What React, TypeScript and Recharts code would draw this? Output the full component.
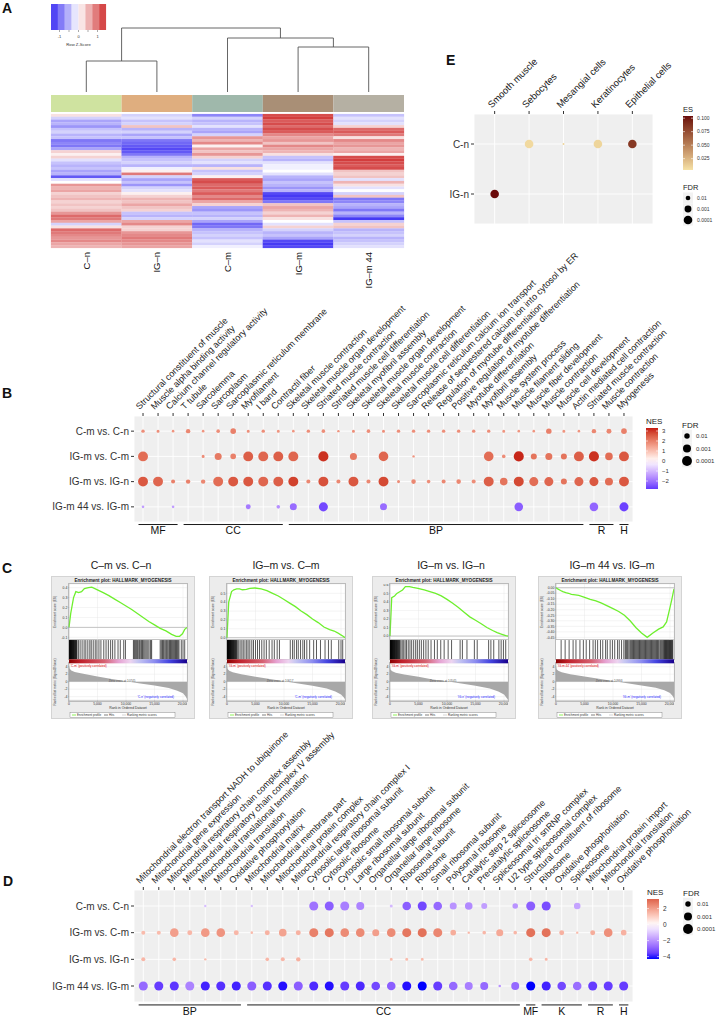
import React from "react";
import {
  ScatterChart, Scatter, LineChart, Line, AreaChart, Area,
  XAxis, YAxis, ZAxis, CartesianGrid, Cell, ReferenceArea, ReferenceLine,
} from "recharts";

const FONT = "'Liberation Sans', Arial, Helvetica, sans-serif";

// ---------- A: heatmap (row z-scores, 48 row bands per sample) ----------
const HEAT_SAMPLES = ["C–n", "IG–n", "C–m", "IG–m", "IG–m 44"];
const HEAT_SAMPLE_COLORS = ["#cfe3a0", "#dfae7f", "#9fb8ab", "#a98f76", "#b5b0a3"];
const HEAT_CN = [0.2, -0.3, -0.6, -0.5, -0.7, -0.4, -0.3, -0.5, -0.4, -0.9, -0.8, -0.9, -0.6, 0.3, 0.1, 0.3, -0.2, -0.4, -0.5, -0.4, -0.6, -0.5, -1.1, -0.2, 0.0, 0.7, 0.5, 0.6, 0.3, 0.4, 0.5, 0.3, 0.4, 0.3, 0.4, 0.7, 1.0, 0.9, 0.6, -0.3, 0.2, 1.0, 0.9, 0.8, 0.7, 0.8, 0.6, 0.5];
const HEAT_IGN = [-0.3, -0.2, -0.4, -0.3, 0.4, -0.5, -0.3, -0.6, -0.4, -0.9, -1.0, -1.1, -1.2, -1.1, -0.9, -0.5, -0.4, -0.3, -0.5, -0.1, 0.1, 0.9, -0.3, -0.6, -0.4, -0.7, -0.3, -0.2, 0.1, 0.3, 0.5, 0.4, 0.6, 0.4, 0.3, -0.4, -0.5, -0.3, 0.6, 0.8, 0.3, 0.3, 0.7, 0.8, 0.9, 0.8, 0.7, 0.6];
const HEAT_CM = [-0.8, -0.3, -0.5, -0.4, -0.2, -0.5, -0.6, -0.3, 0.7, 0.5, 0.8, 0.1, 0.6, 0.4, 0.7, 0.3, -0.3, -0.2, -0.5, 0.2, -0.4, -0.3, 0.1, 1.1, 1.2, 1.0, 1.1, 0.9, 1.1, 0.8, 1.0, 0.6, 0.3, -0.6, -0.7, -0.4, -0.5, -0.3, -0.6, -1.0, -0.9, -0.5, -0.4, -0.3, -0.4, -0.2, -0.3, -0.1];
const HEAT_IGM = [1.2, 1.3, 1.1, 1.2, 1.0, 1.2, 1.1, 0.8, 0.6, 0.7, 0.4, 0.8, 0.6, 0.5, 0.2, -0.4, -0.5, -0.2, -0.1, -0.1, 0.0, -0.2, -0.5, -0.6, -0.4, -0.5, -0.7, -0.5, -1.2, -1.3, -1.2, -0.9, 0.4, 0.6, 0.5, 0.3, 0.5, 0.2, 0.0, -0.2, 0.3, -0.3, -0.5, -0.4, -0.6, -1.2, -1.3, -1.2];
const HEAT_IGM44 = [-0.4, -0.2, -0.3, -0.2, 0.3, 1.0, 1.1, 0.9, 0.2, 0.8, 0.6, 0.7, 0.5, 0.6, 0.1, 1.2, 1.3, 1.2, 1.1, 1.2, 0.4, 0.3, 0.4, -0.2, 0.5, 0.2, -0.2, 0.0, -0.3, 0.4, -0.9, -0.8, -0.5, -0.6, -0.9, -0.5, -0.8, -1.3, -0.4, 0.3, 0.4, -0.5, -0.4, -0.3, -0.5, -0.4, -0.3, -0.2];
const HEAT_COLUMNS = [HEAT_CN, HEAT_IGN, HEAT_CM, HEAT_IGM, HEAT_IGM44];

// dendrogram links: child x positions / heights and merge height
const DENDRO_LINKS = [
  { xa: 0, ha: 0, xb: 1, hb: 0, h: 31 },
  { xa: 3, ha: 0, xb: 4, hb: 0, h: 45 },
  { xa: 2, ha: 0, xb: 3.5, hb: 45, h: 54 },
  { xa: 0.5, ha: 31, xb: 2.75, hb: 54, h: 64 },
];

// ---------- E: cell type enrichment ----------
const E_CELLS = ["Smooth muscle", "Sebocytes", "Mesangial cells", "Keratinocytes", "Epithelial cells"];
const E_GROUPS = ["C-n", "IG-n"];
const E_ES_CN = [null, 0.008, 0.01, 0.01, 0.085];
const E_FDR_CN = [null, 0.0001, 0.05, 0.0001, 0.0001];
const E_ES_IGN = [0.104, null, null, null, null];
const E_FDR_IGN = [0.0001, null, null, null, null];

// ---------- B / D: GSEA bubble plots ----------
const COMPARISONS = ["C-m vs. C-n", "IG-m vs. C-m", "IG-m vs. IG-n", "IG-m 44 vs. IG-m"];

const B_TERMS = [
  "Structural constituent of muscle", "Muscle alpha binding activity", "Calcium channel regulatory activity",
  "T tubule", "Sarcolemma", "Sarcoplasm", "Sarcoplasmic reticulum membrane", "Myofilament", "I band",
  "Contractil fiber", "Skeletal muscle contraction", "Skeletal muscle organ development",
  "Striated muscle contraction", "Striated muscle cell differentiation", "Skeletal myofibril assembly",
  "Skeletal muscle organ development", "Skeletal muscle contraction", "Skeletal muscle cell differentiation",
  "Sarcoplasmic reticulum calcium ion transport", "Release of sequestered calcium ion into cytosol by ER",
  "Regulation of myotube differentiation", "Positive regulation of myotube differentiation",
  "Myotube differentiation", "Myofibril assembly", "Muscle system process", "Muscle filament sliding",
  "Muscle fiber development", "Muscle contraction", "Muscle cell development",
  "Actin mediated cell contraction", "Striated muscle contraction", "Muscle contraction", "Myogenesis",
];
const B_NES_CM_CN = [1.8, 1.8, 1.7, 1.9, 1.7, 1.8, 2.0, 1.8, 1.8, 1.7, 1.7, 1.8, 1.8, 1.7, 1.8, 1.8, 1.8, 1.8, 1.8, 1.8, 1.8, 1.8, 1.8, 1.8, 1.7, 1.7, 1.7, 2.0, 1.7, 1.7, 1.9, 1.9, 2.0];
const B_FDR_CM_CN = [0.034, 0.04, 0.047, 0.02, 0.047, 0.031, 0.009, 0.04, 0.034, 0.04, 0.047, 0.034, 0.031, 0.05, 0.04, 0.031, 0.04, 0.034, 0.034, 0.034, 0.034, 0.034, 0.034, 0.034, 0.04, 0.047, 0.047, 0.01, 0.04, 0.047, 0.02, 0.014, 0.009];
const B_NES_IGM_CM = [2.3, null, null, null, 1.8, 2.1, 2.0, 2.5, 2.4, 2.5, 2.4, null, 3.1, null, 2.1, null, 2.4, null, 1.7, null, null, null, null, 2.3, 1.8, 3.2, 2.2, 2.2, 2.2, 2.5, 3.1, 2.3, 2.6];
const B_FDR_IGM_CM = [0.0001, null, null, null, 0.04, 0.0027, 0.009, 0.0001, 0.0001, 0.0001, 0.0001, null, 0.00008, null, 0.0027, null, 0.00015, null, 0.05, null, null, null, null, 0.00015, 0.031, 0.00008, 0.0065, 0.0027, 0.0065, 0.0001, 0.00008, 0.0015, 0.0001];
const B_NES_IGM_IGN = [2.6, 2.4, 2.0, 2.0, 1.9, 2.3, 2.6, 2.6, 2.4, 2.5, 2.9, 1.9, 2.7, 1.9, 2.6, 1.9, 2.8, 1.8, 1.9, 1.8, 1.9, 1.9, 1.8, 2.5, 2.2, 2.8, 2.3, 2.4, 2.2, 2.4, 2.6, 2.3, 2.6];
const B_FDR_IGM_IGN = [0.0001, 0.0001, 0.025, 0.02, 0.02, 0.0001, 0.0001, 0.0001, 0.0001, 0.0001, 0.0001, 0.025, 0.0001, 0.025, 0.0001, 0.025, 0.0001, 0.04, 0.018, 0.031, 0.025, 0.018, 0.025, 0.0001, 0.0015, 0.0001, 0.0003, 0.0003, 0.0065, 0.0003, 0.0003, 0.001, 0.0001];
const B_NES_IGM44_IGM = [-1.4, null, -1.4, null, null, null, null, -1.9, null, -1.6, -2.1, null, -2.6, null, null, null, -2.1, null, null, null, null, null, null, null, null, -2.3, null, null, null, null, -2.2, null, -2.7];
const B_FDR_IGM44_IGM = [0.047, null, 0.047, null, null, null, null, 0.014, null, 0.031, 0.0027, null, 0.0003, null, null, null, 0.0027, null, null, null, null, null, null, null, null, 0.0005, null, null, null, null, 0.0005, null, 0.0003];
const B_GROUPS = [
  { label: "MF", from: 1, to: 3 }, { label: "CC", from: 4, to: 10 }, { label: "BP", from: 11, to: 30 },
  { label: "R", from: 31, to: 32 }, { label: "H", from: 33, to: 33 },
];

const D_TERMS = [
  "Mitochondrial electron transport NADH to ubiquinone", "Mitochondrial gene expression",
  "Mitochondrial respiratory chain complex assembly", "Mitochondrial respiratory chain complex IV assembly",
  "Mitochondrial translational termination", "Mitochondrial translation", "Oxidative phosphorylation",
  "Mitochondrial matrix", "Mitochondrial membrane part", "Mitochondrial protein complex",
  "Mitochondrial respiratory chain complex I", "Cytosolic large ribosomal subunit", "Cytosolic ribosome",
  "Cytosolic small ribosomal subunit", "Large ribosomal subunit", "Organellar large ribosomal subunit",
  "Organellar large ribosome", "Ribosomal subunit", "Ribosome", "Small ribosomal subunit",
  "Polysomal ribosome", "Catalytic step 2 spliceosome", "Precatalytic spliceosome",
  "Spliceosomal tri snRNP complex", "U2 type spliceosomal complex", "Structural constituent of ribosome",
  "Ribosome", "Oxidative phosphorilation", "Spliceosome", "Mitochondrial protein import",
  "Mitochondrial translation", "Oxidative phosphorilation",
];
const D_NES_CM_CN = [null, null, null, null, -1.2, null, null, -1.2, null, null, null, -2.6, -3.0, -2.4, -2.3, null, -1.3, -3.0, -3.4, -2.8, -2.0, -2.2, -1.8, null, -2.0, -3.0, -3.3, null, -1.7, null, null, null];
const D_FDR_CM_CN = [null, null, null, null, 0.05, null, null, 0.05, null, null, null, 0.0003, 0.0003, 0.0003, 0.001, null, 0.04, 0.0005, 0.0003, 0.0005, 0.0027, 0.0015, 0.0065, null, 0.009, 0.0003, 0.0003, null, 0.004, null, null, null];
const D_NES_IGM_CM = [1.4, 1.4, 2.0, 1.5, 2.1, 2.2, 1.5, 1.4, 1.6, 1.9, 1.6, 2.6, 2.8, 2.4, 2.4, 2.0, 2.4, 2.8, 2.9, 2.5, 1.7, 1.5, 1.5, 1.8, 1.5, 2.9, 2.9, 1.6, 1.4, 1.7, 2.3, 1.6];
const D_FDR_IGM_CM = [0.025, 0.025, 0.0005, 0.014, 0.0005, 0.0005, 0.014, 0.047, 0.014, 0.0015, 0.014, 0.0003, 0.0003, 0.0005, 0.0005, 0.0027, 0.0005, 0.0003, 0.0003, 0.0003, 0.009, 0.05, 0.031, 0.0027, 0.031, 0.0003, 0.0003, 0.014, 0.05, 0.014, 0.0005, 0.009];
const D_NES_IGM_IGN = [1.5, null, 1.5, null, 1.4, null, null, null, 1.5, 1.5, 1.6, null, null, null, null, null, 1.4, 1.4, 1.4, null, null, null, null, null, null, 1.5, 1.5, null, null, null, null, null];
const D_FDR_IGM_IGN = [0.025, null, 0.031, null, 0.05, null, null, null, 0.031, 0.025, 0.02, null, null, null, null, null, 0.04, 0.04, 0.04, null, null, null, null, null, null, 0.031, 0.04, null, null, null, null, null];
const D_NES_IGM44_IGM = [-2.8, -3.6, -3.7, -2.3, -4.0, -3.8, -4.0, -3.0, -3.8, -4.2, -3.0, -3.9, -4.2, -3.6, -3.9, -3.4, -3.0, -4.2, -4.3, -3.6, -2.8, -2.4, -2.8, -2.0, -2.8, -4.3, -4.0, -3.4, -2.7, -3.6, -3.6, -3.6];
const D_FDR_IGM44_IGM = [0.0003, 0.0003, 0.0003, 0.0003, 0.0003, 0.0003, 0.0003, 0.0003, 0.0003, 0.0003, 0.0003, 0.0003, 0.0003, 0.0003, 0.0003, 0.0005, 0.0005, 0.0003, 0.0003, 0.0003, 0.0005, 0.001, 0.001, 0.047, 0.001, 0.0003, 0.0003, 0.0005, 0.0005, 0.0003, 0.0003, 0.0003];
const D_GROUPS = [
  { label: "BP", from: 1, to: 7 }, { label: "CC", from: 8, to: 25 }, { label: "MF", from: 26, to: 26 },
  { label: "K", from: 27, to: 29 }, { label: "R", from: 30, to: 31 }, { label: "H", from: 32, to: 32 },
];

// ---------- C: GSEA enrichment plots (HALLMARK_MYOGENESIS) ----------
const GSEA_N = 20700;
const ES_RANKS = [0, 300, 800, 1200, 1700, 2200, 2700, 3400, 4000, 4900, 6000, 7000, 8000, 9000, 10000, 11000, 12000, 13000, 14000, 15000, 16000, 17000, 18000, 18800, 19400, 19900, 20300, 20700];
const C1_ES = [0, 0.14, 0.3, 0.36, 0.35, 0.36, 0.39, 0.4, 0.405, 0.38, 0.35, 0.32, 0.285, 0.25, 0.215, 0.18, 0.14, 0.1, 0.06, 0.025, -0.01, -0.035, -0.07, -0.09, -0.09, -0.065, -0.02, 0];
const C2_ES = [0, 0.4, 0.52, 0.54, 0.55, 0.55, 0.54, 0.545, 0.555, 0.56, 0.55, 0.53, 0.5, 0.47, 0.43, 0.39, 0.35, 0.3, 0.26, 0.21, 0.17, 0.12, 0.09, 0.075, 0.055, 0.035, 0.02, 0];
const C3_ES = [0, 0.45, 0.47, 0.5, 0.52, 0.54, 0.58, 0.58, 0.57, 0.56, 0.54, 0.52, 0.5, 0.47, 0.43, 0.385, 0.335, 0.28, 0.225, 0.185, 0.145, 0.1, 0.065, 0.04, 0.025, 0.015, 0.005, 0];
const C4_ES = [0, -0.01, -0.025, -0.035, -0.045, -0.05, -0.06, -0.065, -0.07, -0.085, -0.105, -0.12, -0.14, -0.165, -0.19, -0.215, -0.25, -0.3, -0.36, -0.41, -0.45, -0.41, -0.375, -0.355, -0.31, -0.2, -0.11, -0.01];
const C1_ES_TICKS = [-0.1, 0, 0.1, 0.2, 0.3, 0.4];
const C2_ES_TICKS = [0, 0.1, 0.2, 0.3, 0.4, 0.5];
const C3_ES_TICKS = [0, 0.1, 0.2, 0.3, 0.4, 0.5, 0.6];
const C4_ES_TICKS = [-0.45, -0.4, -0.35, -0.3, -0.25, -0.2, -0.15, -0.1, -0.05, 0];
const C1_HITS = [30, 90, 120, 170, 210, 260, 300, 350, 400, 450, 500, 560, 620, 680, 740, 800, 860, 930, 1000, 1080, 1150, 1230, 1320, 1400, 1650, 1950, 2300, 2650, 2950, 3300, 3650, 3900, 4250, 4600, 4900, 5250, 5600, 6100, 6500, 6900, 7300, 7650, 8050, 8600, 9000, 9600, 9900, 11300, 11450, 11600, 11750, 11900, 12050, 12250, 12400, 12600, 12750, 12900, 13100, 13300, 13500, 13700, 13900, 14200, 14350, 14500, 16000, 16200, 16400, 16550, 16700, 16900, 17100, 17300, 17500, 17650, 17800, 17950, 18100, 18250, 18400, 18550, 18700, 18850, 19000, 19150, 19300, 19700, 20000, 20300];
const C2_HITS = [20, 50, 80, 115, 150, 190, 230, 270, 310, 350, 400, 450, 500, 550, 610, 660, 720, 780, 850, 910, 980, 1050, 1120, 1190, 1270, 1350, 1430, 1520, 1600, 1700, 1800, 2050, 2300, 2600, 2850, 3150, 3450, 3700, 4000, 4350, 4650, 5000, 5350, 5700, 6100, 6500, 6900, 7400, 7900, 8300, 8800, 9200, 11100, 11500, 11800, 12200, 12500, 12900, 13300, 13600, 14000, 14500, 15200, 15700, 16400, 17200, 17800, 18300, 19600, 20000, 20300];
const C3_HITS = [20, 55, 90, 130, 170, 215, 260, 300, 350, 400, 450, 500, 560, 620, 680, 740, 800, 860, 930, 1000, 1070, 1140, 1220, 1300, 1380, 1460, 1550, 1640, 1730, 1920, 2150, 2400, 2650, 2900, 3200, 3500, 3800, 4150, 4500, 4800, 5150, 5500, 5900, 6300, 6700, 7200, 7800, 8300, 8900, 9500, 10200, 10800, 12300, 12700, 13500, 14800, 15300, 17300, 17700, 18200, 19100, 19500, 19900, 20300];
const C4_HITS = [900, 1600, 2300, 3000, 3500, 4200, 4800, 5300, 5900, 6500, 6900, 7300, 7800, 8200, 8700, 9000, 9500, 9900, 10300, 10800, 11100, 11500, 11900, 12150, 12300, 12450, 12600, 12800, 13000, 13150, 13300, 13450, 13600, 13750, 13900, 14050, 14200, 14350, 14500, 14650, 14800, 14950, 15100, 15250, 15400, 15550, 15700, 15850, 16000, 16150, 16300, 16450, 16600, 16750, 16900, 17050, 17200, 17350, 17500, 17650, 17800, 17950, 18100, 18300, 18450, 18600, 18750, 18900, 19000, 19100, 19200, 19300, 19400, 19500, 19600, 19700, 19800, 19900, 20000, 20100, 20200, 20300, 20400, 20500];
const METRIC_RANKS = [0, 100, 400, 1000, 2500, 5000, 7500, 10000, 12500, 15000, 17500, 19000, 20000, 20500, 20700];
const C1_METRIC = [4.4, 3.5, 3.0, 2.6, 2.1, 1.4, 0.7, 0.15, -0.45, -1.0, -1.7, -2.4, -3.1, -4.0, -4.6];
const C2_METRIC = [4.2, 3.4, 2.9, 2.5, 2.0, 1.3, 0.7, 0.1, -0.5, -1.1, -1.8, -2.6, -3.4, -4.2, -4.7];
const C3_METRIC = [4.0, 3.2, 2.8, 2.4, 1.9, 1.3, 0.6, 0.1, -0.5, -1.1, -1.8, -2.6, -3.4, -4.4, -4.8];
const C4_METRIC = [4.2, 3.3, 2.9, 2.5, 2.0, 1.4, 0.8, 0.2, -0.4, -1.0, -1.6, -2.3, -3.0, -3.9, -4.5];
const GSEA_TITLES = ["C–m vs. C–n", "IG–m vs. C–m", "IG–m vs. IG–n", "IG–m 44 vs. IG–m"];
const GSEA_POS = ["C-m", "IG-m", "IG-m", "IG-m 44"];
const GSEA_NEG = ["C-n", "C-m", "IG-n", "IG-m"];
const GSEA_ZERO = [10745, 10617, 10545, 10993];

// ---------- colour helpers ----------
const hexToRgb = (h: string) => { const n = parseInt(h.slice(1), 16); return [(n >> 16) & 255, (n >> 8) & 255, n & 255]; };
const toLin = (c: number) => { c /= 255; return c <= 0.04045 ? c / 12.92 : Math.pow((c + 0.055) / 1.055, 2.4); };
const fromLin = (c: number) => { const v = c <= 0.0031308 ? 12.92 * c : 1.055 * Math.pow(c, 1 / 2.4) - 0.055; return Math.round(Math.max(0, Math.min(1, v)) * 255); };
const rgbToLab = (rgb: number[]) => {
  const [r, g, b] = rgb.map(toLin);
  const f = (t: number) => (t > 0.008856 ? Math.cbrt(t) : 7.787 * t + 16 / 116);
  const fx = f((0.4124 * r + 0.3576 * g + 0.1805 * b) / 0.95047);
  const fy = f(0.2126 * r + 0.7152 * g + 0.0722 * b);
  const fz = f((0.0193 * r + 0.1192 * g + 0.9505 * b) / 1.08883);
  return [116 * fy - 16, 500 * (fx - fy), 200 * (fy - fz)];
};
const labToHex = ([L, a, b]: number[]) => {
  const fy = (L + 16) / 116, fx = fy + a / 500, fz = fy - b / 200;
  const inv = (t: number) => (t * t * t > 0.008856 ? t * t * t : (t - 16 / 116) / 7.787);
  const x = inv(fx) * 0.95047, y = inv(fy), z = inv(fz) * 1.08883;
  const rgb = [3.2406 * x - 1.5372 * y - 0.4986 * z, -0.9689 * x + 1.8758 * y + 0.0415 * z, 0.0557 * x - 0.204 * y + 1.057 * z];
  return "#" + rgb.map(fromLin).map((v) => v.toString(16).padStart(2, "0")).join("");
};
const mixLab = (c1: string, c2: string, t: number) => {
  const A = rgbToLab(hexToRgb(c1)), B = rgbToLab(hexToRgb(c2));
  return labToHex(A.map((v, i) => v + (B[i] - v) * t));
};
const mixRgb = (c1: string, c2: string, t: number) => {
  const A = hexToRgb(c1), B = hexToRgb(c2);
  return "#" + A.map((v, i) => Math.round(v + (B[i] - v) * t).toString(16).padStart(2, "0")).join("");
};
const clamp01 = (t: number) => Math.max(0, Math.min(1, t));

const NES_HIGH = "#C41A12";
const NES_LOW = "#0000FF";
const nesColor = (nes: number, m: number) =>
  nes >= 0 ? mixLab("#ffffff", NES_HIGH, clamp01(nes / m)) : mixLab("#ffffff", NES_LOW, clamp01(-nes / m));
const heatColor = (v: number) =>
  v >= 0 ? mixRgb("#ffffff", "#cc1f1f", clamp01(v / 1.5)) : mixRgb("#ffffff", "#2a1cf2", clamp01(-v / 1.5));
const ES_LOW = "#F6E2A6";
const ES_HIGH = "#6A0A0A";
const esColor = (es: number) => mixLab(ES_LOW, ES_HIGH, clamp01((es - 0.004) / 0.1));

const SIZE_DOMAIN = [1.3, 4.3];
const SIZE_RANGE = [4.5, 85];
const E_SIZE_DOMAIN = [1.3, 4];
const E_SIZE_RANGE = [3, 58];
const radiusFor = (fdr: number, dom: number[], rng: number[]) => {
  const l = -Math.log10(fdr);
  const area = rng[0] + ((l - dom[0]) / (dom[1] - dom[0])) * (rng[1] - rng[0]);
  return Math.sqrt(Math.max(area, 0.5) / Math.PI);
};
const seq = (n: number, start = 1) => Array.from({ length: n }, (_, i) => i + start);
const fmtMinus = (v: number) => (v < 0 ? "−" + Math.abs(v) : String(v));

const angledTick = (labels: string[], fontSize: number, dx: number, dy: number) => (props: any) => {
  const { x, y, payload } = props;
  const ox = x + dx, oy = y + dy;
  return (
    <text x={ox} y={oy} transform={`rotate(-45 ${ox} ${oy})`} fontSize={fontSize} fill="#1a1a1a" textAnchor="start">
      {labels[Math.round(payload.value) - 1]}
    </text>
  );
};

// ---------- panel A ----------
function HeatmapPanel() {
  const cells: any[] = [];
  HEAT_COLUMNS.forEach((col, c) => col.forEach((v, r) => cells.push({ x: c, y: r, v })));
  const heatTick = (props: any) => (
    <text transform={`translate(${props.x + 3.5},${props.y}) rotate(-90)`} textAnchor="end" fontSize={9.5} fill="#111">
      {HEAT_SAMPLES[props.payload.value]}
    </text>
  );
  return (
    <>
      <div style={{ position: "absolute", left: 0, top: 20 }}>
        <ScatterChart width={420} height={80} margin={{ top: 8, right: 16, bottom: 8, left: 51 }}>
          <XAxis dataKey="x" type="number" domain={[-0.5, 4.5]} hide />
          <YAxis dataKey="y" type="number" domain={[0, 64]} hide />
          {DENDRO_LINKS.map((k, i) => (
            <Scatter
              key={i}
              data={[{ x: k.xa, y: k.ha }, { x: k.xa, y: k.h }, { x: k.xb, y: k.h }, { x: k.xb, y: k.hb }]}
              line={{ stroke: "#555", strokeWidth: 0.9 }}
              shape={() => <g />}
              isAnimationActive={false}
            />
          ))}
        </ScatterChart>
      </div>
      <div style={{ position: "absolute", left: 0, top: 90 }}>
        <ScatterChart width={420} height={210} margin={{ top: 5, right: 16, bottom: 0, left: 51 }}>
          <XAxis dataKey="x" type="number" domain={[-0.5, 4.5]} ticks={[0, 1, 2, 3, 4]} interval={0}
            height={52} tickSize={0} tickMargin={4} axisLine={false} tickLine={false} tick={heatTick} />
          <YAxis dataKey="y" type="number" domain={[-7.31, 47.5]} reversed hide />
          {HEAT_SAMPLE_COLORS.map((c, i) => (
            <ReferenceArea key={i} x1={i - 0.5} x2={i + 0.5} y1={-7.31} y2={-1.22} fill={c} fillOpacity={1} stroke="none" />
          ))}
          <Scatter data={cells} isAnimationActive={false}
            shape={(p: any) => <rect x={p.cx - 35.4} y={p.cy - 1.48} width={70.8} height={2.96} fill={heatColor(p.payload.v)} />} />
        </ScatterChart>
      </div>
    </>
  );
}

// ---------- panel E ----------
function CellTypePanel() {
  const data: any[] = [];
  [E_ES_CN, E_ES_IGN].forEach((row, r) => row.forEach((es, c) => {
    const fdr = (r === 0 ? E_FDR_CN : E_FDR_IGN)[c];
    if (es != null && fdr != null) data.push({ x: c + 1, y: r + 1, es, l: -Math.log10(fdr) });
  }));
  return (
    <div style={{ position: "absolute", left: 420, top: 0 }}>
      <ScatterChart width={297} height={240} margin={{ top: 0, right: 64, bottom: 16, left: 0 }}>
        <CartesianGrid fill="#efefef" fillOpacity={1} stroke="#ffffff" strokeWidth={0.9} />
        <XAxis dataKey="x" type="number" orientation="top" domain={[0.4, 5.6]} ticks={seq(5)} interval={0}
          height={114} tickSize={3} tickLine={{ stroke: "#333" }} axisLine={false} tick={angledTick(E_CELLS, 9.5, -3, -0.5)} />
        <YAxis dataKey="y" type="number" reversed domain={[0.4, 2.6]} ticks={[1, 2]} interval={0} width={54}
          tickFormatter={(v: number) => E_GROUPS[v - 1]} tick={{ fontSize: 10, fill: "#333" }}
          tickSize={3} tickMargin={2} axisLine={false} tickLine={{ stroke: "#333" }} />
        <ZAxis dataKey="l" type="number" domain={E_SIZE_DOMAIN} range={E_SIZE_RANGE} />
        <Scatter data={data} isAnimationActive={false}>
          {data.map((d, i) => <Cell key={i} fill={esColor(d.es)} />)}
        </Scatter>
      </ScatterChart>
    </div>
  );
}

// ---------- panels B and D ----------
function BubblePanel({ top, height, axisHeight, bottom, terms, nesRows, fdrRows, nesMax, groups, bracketY }: any) {
  const data: any[] = [];
  nesRows.forEach((row: any[], r: number) => row.forEach((nes, c) => {
    const fdr = fdrRows[r][c];
    if (nes != null && fdr != null) data.push({ x: c + 1, y: r + 1, nes, l: -Math.log10(fdr) });
  }));
  const n = terms.length;
  return (
    <div style={{ position: "absolute", left: 0, top }}>
      <ScatterChart width={717} height={height} margin={{ top: 0, right: 84, bottom, left: 0 }}>
        <CartesianGrid fill="#efefef" fillOpacity={1} stroke="#ffffff" strokeWidth={0.9} />
        <XAxis dataKey="x" type="number" orientation="top" domain={[0.4, n + 0.6]} ticks={seq(n)} interval={0}
          height={axisHeight} tickSize={3} tickLine={{ stroke: "#333" }} axisLine={false}
          tick={angledTick(terms, 9, -3.5, -1)} />
        <YAxis dataKey="y" type="number" reversed domain={[0.4, 4.6]} ticks={[1, 2, 3, 4]} interval={0} width={134}
          tickFormatter={(v: number) => COMPARISONS[v - 1]} tick={{ fontSize: 10, fill: "#333" }}
          tickSize={3} tickMargin={2} axisLine={false} tickLine={{ stroke: "#333" }} />
        <ZAxis dataKey="l" type="number" domain={SIZE_DOMAIN} range={SIZE_RANGE} />
        {groups.map((g: any) => (
          <ReferenceLine key={g.label + g.from} ifOverflow="visible" stroke="#1a1a1a" strokeWidth={1}
            segment={[{ x: g.from - 0.3, y: bracketY }, { x: g.to + 0.3, y: bracketY }]}
            label={{ value: g.label, position: "bottom", offset: 2.5, fontSize: 10.5, fill: "#111" }} />
        ))}
        <Scatter data={data} isAnimationActive={false}>
          {data.map((d, i) => <Cell key={i} fill={nesColor(d.nes, nesMax)} />)}
        </Scatter>
      </ScatterChart>
    </div>
  );
}

// ---------- panel C ----------
function GseaPanel({ idx, left, es, esTicks, esDomain, digits, hits, metric }: any) {
  const esData = ES_RANKS.map((r, i) => ({ rank: r, es: es[i] }));
  const hitData = hits.map((r: number) => ({ rank: r, y: 0 }));
  const metricData = METRIC_RANKS.map((r, i) => ({ rank: r, value: metric[i] }));
  const white = (t: number, h: number) => (
    <div style={{ position: "absolute", left: 17, top: t, width: 118, height: h, background: "#fff", outline: "0.4px solid #bbb" }} />
  );
  const tiny = { fontSize: 3.4, fill: "#333" };
  return (
    <div style={{ position: "absolute", left, top: 577, width: 142, height: 141, background: "#ececec", outline: "0.5px solid #d4d4d4" }}>
      {white(7, 56)}
      {white(63, 19.3)}
      {white(86.3, 37.4)}
      <div style={{ position: "absolute", left: 5, top: 7 }}>
        <LineChart width={130} height={56} data={esData} margin={{ top: 0, right: 0, bottom: 0, left: 0 }}>
          <CartesianGrid stroke="#e2e2e2" strokeWidth={0.4} />
          <XAxis dataKey="rank" type="number" domain={[0, GSEA_N]} ticks={[0, 5000, 10000, 15000, 20000]} hide />
          <YAxis type="number" domain={esDomain} ticks={esTicks} interval={0} width={12} tick={tiny}
            tickFormatter={(v: number) => v.toFixed(digits)} tickSize={1.2} tickMargin={0.5}
            axisLine={{ stroke: "#999", strokeWidth: 0.4 }} tickLine={{ stroke: "#999", strokeWidth: 0.4 }} />
          <ReferenceLine y={0} stroke="#c4c4c4" strokeWidth={1} />
          <Line dataKey="es" type="linear" stroke="#6EEF2E" strokeWidth={1.3} dot={false} isAnimationActive={false} />
        </LineChart>
      </div>
      <div style={{ position: "absolute", left: 17, top: 63 }}>
        <ScatterChart width={118} height={19.3} margin={{ top: 0, right: 0, bottom: 0, left: 0 }}>
          <XAxis dataKey="rank" type="number" domain={[0, GSEA_N]} hide />
          <YAxis dataKey="y" type="number" domain={[-1, 1]} hide />
          <Scatter data={hitData} isAnimationActive={false}
            shape={(p: any) => <line x1={p.cx} x2={p.cx} y1={p.cy - 9.6} y2={p.cy + 9.6} stroke="#000" strokeWidth={0.65} />} />
        </ScatterChart>
      </div>
      <div style={{ position: "absolute", left: 5, top: 86.3 }}>
        <AreaChart width={130} height={46} data={metricData} margin={{ top: 0, right: 0, bottom: 0, left: 0 }}>
          <CartesianGrid stroke="#e2e2e2" strokeWidth={0.4} />
          <XAxis dataKey="rank" type="number" domain={[0, GSEA_N]} ticks={[0, 5000, 10000, 15000, 20000]} interval={0}
            height={8.6} tick={tiny} tickSize={1.2} tickMargin={0.5} tickFormatter={(v: number) => v.toLocaleString("en-US")}
            axisLine={{ stroke: "#999", strokeWidth: 0.4 }} tickLine={{ stroke: "#999", strokeWidth: 0.4 }} />
          <YAxis type="number" domain={[-5, 5]} ticks={[-4, -2, 0, 2, 4]} interval={0} width={12} tick={tiny}
            tickSize={1.2} tickMargin={0.5} axisLine={{ stroke: "#999", strokeWidth: 0.4 }} tickLine={{ stroke: "#999", strokeWidth: 0.4 }} />
          <Area dataKey="value" type="linear" baseValue={0} fill="#a8a8a8" fillOpacity={1} stroke="none" isAnimationActive={false} />
        </AreaChart>
      </div>
      <svg width={142} height={141} style={{ position: "absolute", left: 0, top: 0, overflow: "visible" }}>
        <defs>
          <linearGradient id={`rank${idx}`} x1="0" x2="1" y1="0" y2="0">
            <stop offset="0" stopColor="#8a0000" />
            <stop offset="0.1" stopColor="#c0202a" />
            <stop offset="0.3" stopColor="#d66070" />
            <stop offset="0.42" stopColor="#e6a2d2" />
            <stop offset="0.52" stopColor="#eed4f0" />
            <stop offset="0.58" stopColor="#c8c8f2" />
            <stop offset="0.72" stopColor="#8e8ef0" />
            <stop offset="0.85" stopColor="#4444e0" />
            <stop offset="1" stopColor="#18008c" />
          </linearGradient>
        </defs>
        <text x={71} y={5.4} fontSize={4.6} fontWeight="bold" textAnchor="middle" fill="#222">Enrichment plot: HALLMARK_MYOGENESIS</text>
        <text transform="translate(4.2,35) rotate(-90)" fontSize={3.2} textAnchor="middle" fill="#333">Enrichment score (ES)</text>
        <text transform="translate(4.2,105) rotate(-90)" fontSize={3.2} textAnchor="middle" fill="#333">Ranked list metric (Signal2Noise)</text>
        <rect x={17} y={82.3} width={118} height={4} fill={`url(#rank${idx})`} />
        <text x={18.5} y={90} fontSize={3} fill="#e00000">{`'${GSEA_POS[idx]}' (positively correlated)`}</text>
        <text x={70} y={104.5} fontSize={3} fill="#555" textAnchor="middle">{`Zero cross at ${GSEA_ZERO[idx]}`}</text>
        <text x={122} y={121} fontSize={3} fill="#2222ff" textAnchor="end">{`'${GSEA_NEG[idx]}' (negatively correlated)`}</text>
        <text x={76} y={132.4} fontSize={3.4} fill="#333" textAnchor="middle">Rank in Ordered Dataset</text>
        <rect x={18} y={135.6} width={105} height={4.8} fill="#fff" stroke="#666" strokeWidth={0.35} />
        <line x1={20} x2={24} y1={138} y2={138} stroke="#6EEF2E" strokeWidth={0.8} />
        <text x={25} y={139} fontSize={3} fill="#333">Enrichment profile</text>
        <line x1={52} x2={56} y1={138} y2={138} stroke="#000" strokeWidth={0.5} />
        <text x={57} y={139} fontSize={3} fill="#333">Hits</text>
        <line x1={70} x2={74} y1={138} y2={138} stroke="#aaa" strokeWidth={0.5} />
        <text x={75} y={139} fontSize={3} fill="#333">Ranking metric scores</text>
      </svg>
    </div>
  );
}

// ---------- legends & annotations ----------
function GradientBar({ id, x, y, w, h, top, bottom, color, ticks, fmt, fontSize }: any) {
  const stops = seq(11, 0).map((i) => ({ o: i / 10, c: color(top + ((bottom - top) * i) / 10) }));
  const yOf = (v: number) => y + ((top - v) / (top - bottom)) * h;
  return (
    <g>
      <defs>
        <linearGradient id={id} x1="0" x2="0" y1="0" y2="1">
          {stops.map((s) => <stop key={s.o} offset={s.o} stopColor={s.c} />)}
        </linearGradient>
      </defs>
      <rect x={x} y={y} width={w} height={h} fill={`url(#${id})`} />
      {ticks.map((t: number) => (
        <g key={t}>
          <line x1={x} x2={x + 2} y1={yOf(t)} y2={yOf(t)} stroke="#fff" strokeWidth={0.6} />
          <line x1={x + w - 2} x2={x + w} y1={yOf(t)} y2={yOf(t)} stroke="#fff" strokeWidth={0.6} />
          <text x={x + w + 4} y={yOf(t)} dy="0.35em" fontSize={fontSize} fill="#333">{fmt(t)}</text>
        </g>
      ))}
    </g>
  );
}

function SizeLegend({ x, y, gap, dom, rng, fontSize, titleSize }: any) {
  const fdrs = [0.01, 0.001, 0.0001];
  return (
    <g>
      <text x={x - 5} y={y - 8} fontSize={titleSize} fill="#222">FDR</text>
      {fdrs.map((f, i) => (
        <g key={f}>
          <rect x={x - 5} y={y + i * gap - gap / 2} width={10} height={gap} fill="#f2f2f2" />
          <circle cx={x} cy={y + i * gap} r={radiusFor(f, dom, rng)} fill="#000" />
          <text x={x + 9} y={y + i * gap} dy="0.35em" fontSize={fontSize} fill="#333">{String(f)}</text>
        </g>
      ))}
    </g>
  );
}

function Overlay() {
  const keyBins = seq(8, 0).map((i) => -1.225 + i * 0.35);
  const letter = { fontSize: 14, fontWeight: "bold" as const, fill: "#111" };
  const titleX = [121, 286, 451, 612];
  return (
    <svg width={717} height={1017} style={{ position: "absolute", left: 0, top: 0, pointerEvents: "none" }}>
      <text x={2} y={13} {...letter}>A</text>
      <text x={446} y={65} {...letter}>E</text>
      <text x={2} y={398} {...letter}>B</text>
      <text x={2} y={573} {...letter}>C</text>
      <text x={3} y={886} {...letter}>D</text>

      {/* heatmap colour key */}
      {keyBins.map((v, i) => (
        <rect key={i} x={51 + i * 6.875} y={4} width={6.95} height={26} fill={heatColor(v)} />
      ))}
      {[-1, -0.5, 0, 0.5, 1].map((v) => (
        <line key={v} x1={78.5 + v * 19} x2={78.5 + v * 19} y1={30} y2={32} stroke="#555" strokeWidth={0.5} />
      ))}
      {[-1, 0, 1].map((v) => (
        <text key={v} x={78.5 + v * 19} y={37.5} fontSize={4} textAnchor="middle" fill="#333">{v}</text>
      ))}
      <text x={78.5} y={46} fontSize={4.2} textAnchor="middle" fill="#333">Row Z-Score</text>

      {/* E legends */}
      <text x={683} y={112} fontSize={7.5} fill="#222">ES</text>
      <GradientBar id="esbar" x={683} y={116} w={10} h={54} top={0.104} bottom={0.004} color={esColor}
        ticks={[0.1, 0.075, 0.05, 0.025]} fmt={(v: number) => v.toFixed(3)} fontSize={5} />
      <SizeLegend x={688} y={198} gap={11} dom={E_SIZE_DOMAIN} rng={E_SIZE_RANGE} fontSize={5} titleSize={7.5} />

      {/* B legends */}
      <text x={646} y={424} fontSize={8} fill="#222">NES</text>
      <GradientBar id="nesB" x={646} y={428} w={12} h={61} top={3.3} bottom={-2.8}
        color={(v: number) => nesColor(v, 3.3)} ticks={[3, 2, 1, 0, -1, -2]} fmt={fmtMinus} fontSize={6} />
      <SizeLegend x={687} y={436} gap={12.5} dom={SIZE_DOMAIN} rng={SIZE_RANGE} fontSize={6} titleSize={8} />

      {/* D legends */}
      <text x={647} y={895} fontSize={8} fill="#222">NES</text>
      <GradientBar id="nesD" x={647} y={899} w={12} h={60} top={3.2} bottom={-4.3}
        color={(v: number) => nesColor(v, 4.3)} ticks={[2, 0, -2, -4]} fmt={fmtMinus} fontSize={6.5} />
      <SizeLegend x={688} y={904} gap={12.5} dom={SIZE_DOMAIN} rng={SIZE_RANGE} fontSize={6} titleSize={8} />

      {/* C titles */}
      {GSEA_TITLES.map((t, i) => (
        <text key={t} x={titleX[i]} y={569} fontSize={10.5} textAnchor="middle" fill="#222">{t}</text>
      ))}
    </svg>
  );
}

export default function App() {
  return (
    <div style={{ position: "absolute", left: 0, top: 0, width: 717, height: 1017, background: "#fff", overflow: "hidden", fontFamily: FONT }}>
      <HeatmapPanel />
      <CellTypePanel />
      <BubblePanel top={250} height={300} axisHeight={166} bottom={28} terms={B_TERMS}
        nesRows={[B_NES_CM_CN, B_NES_IGM_CM, B_NES_IGM_IGN, B_NES_IGM44_IGM]}
        fdrRows={[B_FDR_CM_CN, B_FDR_IGM_CM, B_FDR_IGM_IGN, B_FDR_IGM44_IGM]}
        nesMax={3.3} groups={B_GROUPS} bracketY={4.7} />
      <GseaPanel idx={0} left={52} es={C1_ES} esTicks={C1_ES_TICKS} esDomain={[-0.127, 0.437]} digits={1} hits={C1_HITS} metric={C1_METRIC} />
      <GseaPanel idx={1} left={210} es={C2_ES} esTicks={C2_ES_TICKS} esDomain={[-0.026, 0.605]} digits={1} hits={C2_HITS} metric={C2_METRIC} />
      <GseaPanel idx={2} left={373} es={C3_ES} esTicks={C3_ES_TICKS} esDomain={[-0.046, 0.61]} digits={1} hits={C3_HITS} metric={C3_METRIC} />
      <GseaPanel idx={3} left={539} es={C4_ES} esTicks={C4_ES_TICKS} esDomain={[-0.474, 0.034]} digits={2} hits={C4_HITS} metric={C4_METRIC} />
      <BubblePanel top={700} height={317} axisHeight={190} bottom={15} terms={D_TERMS}
        nesRows={[D_NES_CM_CN, D_NES_IGM_CM, D_NES_IGM_IGN, D_NES_IGM44_IGM]}
        fdrRows={[D_FDR_CM_CN, D_FDR_IGM_CM, D_FDR_IGM_IGN, D_FDR_IGM44_IGM]}
        nesMax={4.3} groups={D_GROUPS} bracketY={4.71} />
      <Overlay />
    </div>
  );
}
